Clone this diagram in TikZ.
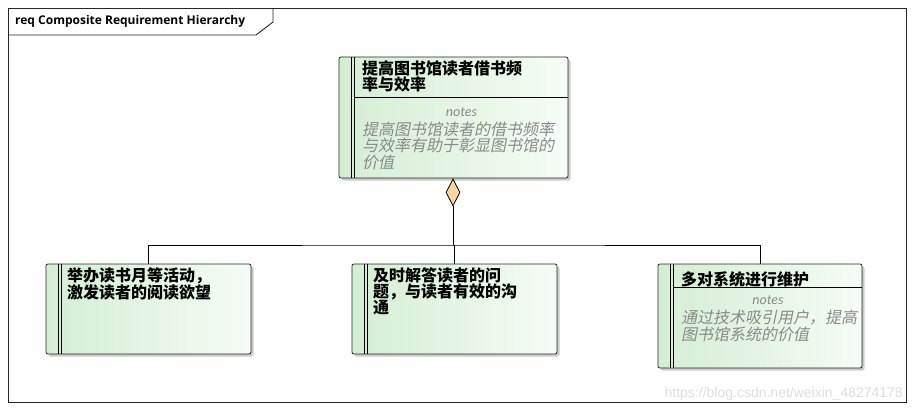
\documentclass[tikz,border=0pt]{standalone}
\usepackage{fontspec}
\setmainfont{Carlito}
\newfontfamily\cjk{Noto Sans CJK SC}
\newfontfamily\cjkit[FakeSlant=0.2]{Noto Sans CJK SC}
\newfontfamily\latinsans{Liberation Sans}
\newfontfamily\framefont{Open Sans}
\usetikzlibrary{shapes.geometric,shadows}
\definecolor{reqL}{HTML}{D3EED3}
\definecolor{reqR}{HTML}{F6FCF6}
\definecolor{aggC}{HTML}{F9D7A4}
\definecolor{noteC}{HTML}{8A8A8A}
\tikzset{
  reqbox/.style={draw=black!85, line width=0.8pt, rounded corners=2pt,
    left color=reqL, right color=reqR, inner sep=0pt,
    drop shadow={shadow xshift=2.5pt, shadow yshift=-2.5pt, fill=black!40, opacity=0.5}},
  barline/.style={draw=black, line width=0.9pt},
  titletext/.style={anchor=north west, inner sep=0pt, align=left,
    font=\cjk\bfseries\fontsize{16}{16}\selectfont},
  notelabel/.style={inner sep=0pt, text=noteC, font=\itshape\fontsize{14}{14}\selectfont},
  notetext/.style={anchor=north west, inner sep=0pt, align=left, text=noteC,
    font=\cjkit\fontsize{16}{16.5}\selectfont},
  conn/.style={draw=black, line width=0.8pt},
}
\begin{document}
\begin{tikzpicture}[x=1pt,y=-1pt]
\useasboundingbox (0,0) rectangle (914,410);
\fill[white] (0,0) rectangle (914,410);
% frame
\node[draw=black!85, line width=0.9pt, minimum width=898pt, minimum height=394pt, inner sep=0pt] (frame) at (457,205) {};
\draw[black!85, line width=0.9pt] (8,35) -- (256,35) -- (273,22) -- (273,8);
\node[anchor=west, inner sep=0pt, font=\framefont\bfseries\fontsize{12}{12}\selectfont] (ftitle) at (15,21.5) {req Composite Requirement Hierarchy};
% watermark
\node[anchor=base east, inner sep=0pt, text=black!13, font=\latinsans\fontsize{14}{14}\selectfont] (wm) at (903,397) {https://blog.csdn.net/weixin\_48274178};
% boxes
\node[reqbox, minimum width=229pt, minimum height=121pt] (top) at (453.5,117.5) {};
\node[reqbox, minimum width=205pt, minimum height=90pt] (left) at (148.5,309) {};
\node[reqbox, minimum width=205pt, minimum height=90pt] (mid) at (454.5,309) {};
\node[reqbox, minimum width=204pt, minimum height=104pt] (right) at (760,316) {};
% double bars
\foreach \b in {top,left,mid,right}{
  \draw[barline] ([xshift=13pt]\b.north west) -- ([xshift=13pt]\b.south west);
  \draw[barline] ([xshift=16pt]\b.north west) -- ([xshift=16pt]\b.south west);
}
% header separators
\draw[barline] ([xshift=16pt,yshift=-41pt]top.north west) -- ([yshift=-41pt]top.north east);
\draw[barline] ([xshift=16pt,yshift=-24pt]right.north west) -- ([yshift=-24pt]right.north east);
% texts
\node[titletext] (ttop) at (362,60) {提高图书馆读者借书频\\率与效率};
\node[notelabel] (ntop) at (461.5,112) {notes};
\node[notetext] (xtop) at (362,121.5) {提高图书馆读者的借书频率\\与效率有助于彰显图书馆的\\价值};
\node[titletext] (tleft) at (67,267) {举办读书月等活动，\\激发读者的阅读欲望};
\node[titletext] (tmid) at (373,267) {及时解答读者的问\\题，与读者有效的沟\\通};
\node[titletext] (tright) at (681,271) {多对系统进行维护};
\node[notelabel] (nright) at (768,300) {notes};
\node[notetext] (xright) at (681,310) {通过技术吸引用户，提高\\图书馆系统的价值};
% aggregation
\node[diamond, draw=black, line width=0.8pt, fill=aggC, minimum width=14pt, minimum height=27pt, inner sep=0pt, anchor=north] (agg) at (453,178.5) {};
\coordinate (j) at (453,245);
\draw[conn] (agg.south) -- (j);
\draw[conn] (left.north) |- (j) -| (right.north);
\draw[conn] (mid.north) -- (mid.north |- j);
\end{tikzpicture}
\end{document}
